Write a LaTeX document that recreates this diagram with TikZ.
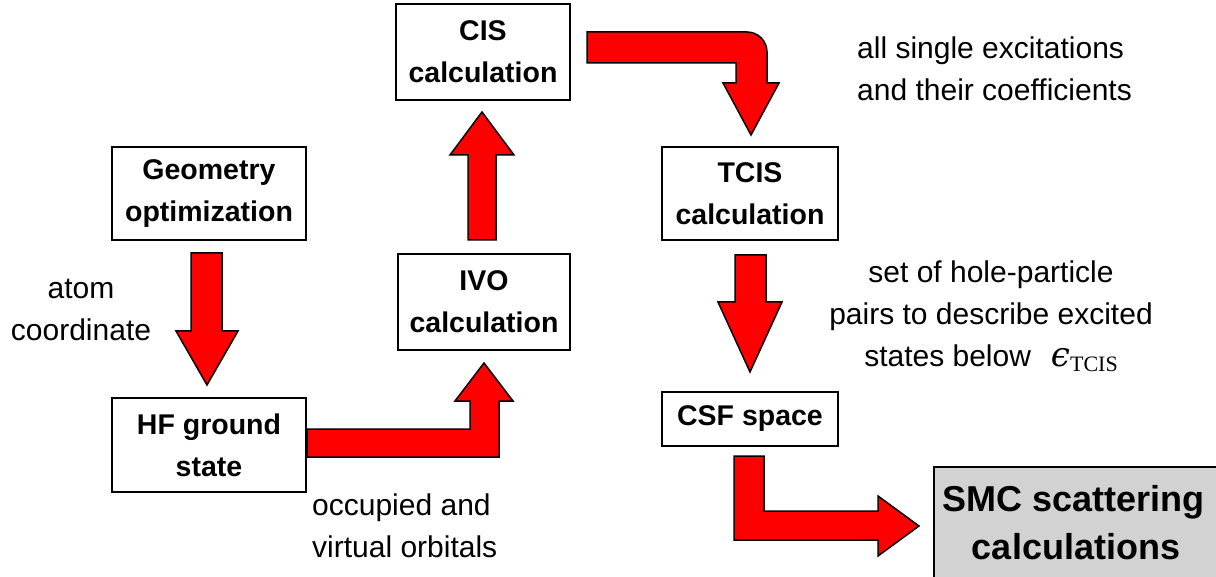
\documentclass[tikz,border=0pt]{standalone}
\usepackage{fontspec}
\setmainfont{Liberation Sans}
\newfontfamily\epsserif[FakeSlant=0.2]{DejaVu Serif}
\newfontfamily\subserif{Liberation Serif}
\begin{document}
\begin{tikzpicture}[x=1pt,y=-1pt,
  box/.style={draw=black,line width=1.6pt,align=center,inner sep=0pt,
    font=\fontsize{28.5}{42}\selectfont\bfseries},
  lbl/.style={inner sep=0pt,font=\fontsize{30}{42}\selectfont},
  blockarrow/.style={draw=black,fill=red,line width=1.5pt,line join=miter}]
\useasboundingbox (0,0) rectangle (1216,577);
% boxes
\node[box,minimum width=174pt,minimum height=96pt] (cis) at (483,52) {CIS\\calculation};
\node[box,minimum width=194pt,minimum height=93pt] (geo) at (209,193.5) {Geometry\\optimization};
\node[box,minimum width=176pt,minimum height=93pt] (tcis) at (750,193.5) {TCIS\\calculation};
\node[box,minimum width=172pt,minimum height=96pt] (ivo) at (484,302) {IVO\\calculation};
\node[box,minimum width=194pt,minimum height=94pt] (hf) at (209,445) {HF ground\\state};
\node[box,minimum width=176pt,minimum height=54pt] (csf) at (750,419) {CSF space};
\node[box,fill={rgb,255:red,210;green,210;blue,210},minimum width=284pt,minimum height=112pt,
  font=\fontsize{36}{48}\selectfont\bfseries] (smc) at (1076,523) {\hspace*{-4pt}SMC scattering\\calculations};
% labels
\node[lbl,align=center] (l1) at (81,310) {atom\\coordinate};
\node[lbl,align=left,anchor=west] (l2) at (312,526) {occupied and\\virtual orbitals};
\node[lbl,align=left,anchor=west] (l3) at (857,69) {all single excitations\\and their coefficients};
\node[lbl,align=center] (l4) at (991,316) {set of hole-particle\\pairs to describe excited\\states below\hspace{18pt}{\epsserif\fontsize{34}{42}\selectfont ϵ}\kern2pt\raisebox{-5pt}{\subserif\fontsize{22}{22}\selectfont TCIS}};
% arrows
% geometry -> HF
\draw[blockarrow] (191,253) -- (222,253) -- (222,331) -- (238,331) -- (207,385) -- (176,331) -- (191,331) -- cycle;
% TCIS -> CSF
\draw[blockarrow] (735,255) -- (766,255) -- (766,302) -- (782,302) -- (750,372) -- (718,302) -- (735,302) -- cycle;
% IVO -> CIS (up)
\draw[blockarrow] (468,240) -- (496,240) -- (496,155) -- (514,155) -- (482,112) -- (450,155) -- (468,155) -- cycle;
% HF -> IVO (bent up)
\draw[blockarrow] (307,429) -- (470,429) -- (470,401) -- (455,401) -- (484,363) -- (513,401) -- (499,401) -- (499,457) -- (307,457) -- cycle;
% CIS -> TCIS (bent down, rounded)
\draw[blockarrow] (587,32) -- (747,32) .. controls (758,32) and (767,41) .. (767,52) -- (767,83) -- (779,83) -- (751,135) -- (723,83) -- (736,83) -- (736,63) -- (587,63) -- cycle;
% CSF -> SMC
\draw[blockarrow] (734,456) -- (764,456) -- (764,511) -- (878,511) -- (878,496) -- (919,526) -- (878,556) -- (878,540) -- (734,540) -- cycle;
\end{tikzpicture}
\end{document}
